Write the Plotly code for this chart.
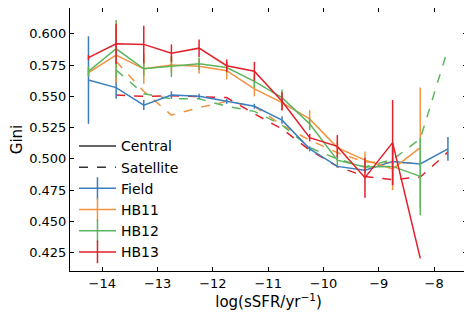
import plotly.graph_objects as go

# log(sSFR) bin centres
ssfr = [-14.25, -13.75, -13.25, -12.75, -12.25, -11.75, -11.25,
        -10.75, -10.25, -9.75, -9.25, -8.75, -8.25, -7.75]

# Central galaxies (solid, with error bars)
field_cen = [0.563, 0.557, 0.543, 0.551, 0.550, 0.546, 0.542,
             0.531, 0.508, 0.494, 0.491, 0.498, 0.496, 0.508]
field_err = [0.035, 0.009, 0.004, 0.003, 0.002, 0.002, 0.002,
             0.003, 0.002, 0.001, 0.002, 0.002, 0.002, 0.0095]
hb11_cen = [0.569, 0.583, 0.572, 0.575, 0.574, 0.5705, 0.556,
            0.545, 0.532, 0.509, 0.499, 0.492, 0.509, None]
hb11_err = [0.003, 0.022, 0.012, 0.006, 0.006, 0.007, 0.006,
            0.006, 0.007, 0.005, 0.007, 0.017, 0.048, None]
hb12_cen = [0.570, 0.588, 0.572, 0.574, 0.576, 0.573, 0.562,
            0.549, 0.528, 0.499, 0.4935, 0.494, 0.486, None]
hb12_err = [0.004, 0.023, 0.006, 0.0086, 0.005, 0.004, 0.005,
            0.0065, 0.005, 0.004, 0.004, 0.015, 0.031, None]
hb13_cen = [0.581, 0.592, 0.5915, 0.5845, 0.5885, 0.5745, 0.570,
            0.546, 0.517, 0.510, 0.485, 0.513, 0.4205, None]
hb13_err = [0.002, 0.016, 0.015, 0.007, 0.007, 0.005, 0.0076,
            0.0073, 0.003, 0.009, 0.016, 0.034, 0.0, None]

# Satellite galaxies (dashed)
hb11_sat = [None, 0.578, 0.554, 0.535, 0.541, 0.546, 0.542,
            0.527, 0.515, 0.505, 0.4975, 0.497, 0.497, None]
hb12_sat = [None, 0.571, 0.552, 0.548, 0.548, 0.542, 0.538,
            0.527, 0.509, 0.500, 0.4935, 0.4995, 0.516, 0.588]
hb13_sat = [None, 0.551, 0.550, 0.5505, 0.550, 0.549, 0.536,
            0.524, 0.507, 0.494, 0.486, 0.4834, 0.4855, 0.5054]

names = ["Field", "HB11", "HB12", "HB13"]
colors = ["#3a7ebf", "#f3923f", "#5cb65e", "#e2202a"]
centrals = [field_cen, hb11_cen, hb12_cen, hb13_cen]
errors = [field_err, hb11_err, hb12_err, hb13_err]
satellites = [None, hb11_sat, hb12_sat, hb13_sat]

fig = go.Figure()

# Satellites first (drawn under the centrals of the same colour)
for name, color, sat in zip(names, colors, satellites):
    if sat is None:
        continue
    fig.add_trace(go.Scatter(
        x=ssfr, y=sat, mode='lines',
        line=dict(color=color, width=1.5, dash='dash'),
        showlegend=False, hoverinfo='skip'
    ))

for name, color, cen, err in zip(names, colors, centrals, errors):
    fig.add_trace(go.Scatter(
        x=ssfr, y=cen, mode='lines',
        line=dict(color=color, width=1.5),
        error_y=dict(type='data', array=[e if e is not None else 0 for e in err],
                     color=color, thickness=1.5, width=0),
        showlegend=False
    ))

# Legend entries
fig.add_trace(go.Scatter(x=[None], y=[None], mode='lines', name='Central',
                         line=dict(color='#333333', width=1.5)))
fig.add_trace(go.Scatter(x=[None], y=[None], mode='lines', name='Satellite',
                         line=dict(color='#333333', width=1.5, dash='dash')))
for name, color in zip(names, colors):
    fig.add_trace(go.Scatter(
        x=[None], y=[None], mode='lines+markers', name=name,
        line=dict(color=color, width=1.5),
        marker=dict(symbol='line-ns-open', size=16, color=color,
                    line=dict(color=color, width=1.5))
    ))

axis_common = dict(
    showline=True, linecolor='black', linewidth=1, mirror='ticks',
    ticks='inside', ticklen=4, tickcolor='black', showgrid=False,
    zeroline=False, tickfont=dict(size=13, color='black'), automargin=False
)

# page body adds an 8px margin, so the figure is a bit smaller than the window
fig.update_layout(
    width=464, height=305,
    margin=dict(l=62, r=5, t=0, b=42),
    plot_bgcolor='white', paper_bgcolor='white',
    font=dict(family='DejaVu Sans', color='black'),
    xaxis=dict(range=[-14.584, -7.405], tickvals=[-14, -13, -12, -11, -10, -9, -8],
               title=dict(text='log(sSFR/yr<sup>−1</sup>)', font=dict(size=15), standoff=6),
               **axis_common),
    yaxis=dict(range=[0.4104, 0.6206], dtick=0.025, tick0=0.425, tickformat='.3f',
               title=dict(text='Gini', font=dict(size=15), standoff=4),
               **axis_common),
    legend=dict(x=0.01, y=0.01, xanchor='left', yanchor='bottom',
                bgcolor='rgba(0,0,0,0)', font=dict(size=14), tracegroupgap=0,
                itemwidth=37),
)

fig.write_html("out.html")
